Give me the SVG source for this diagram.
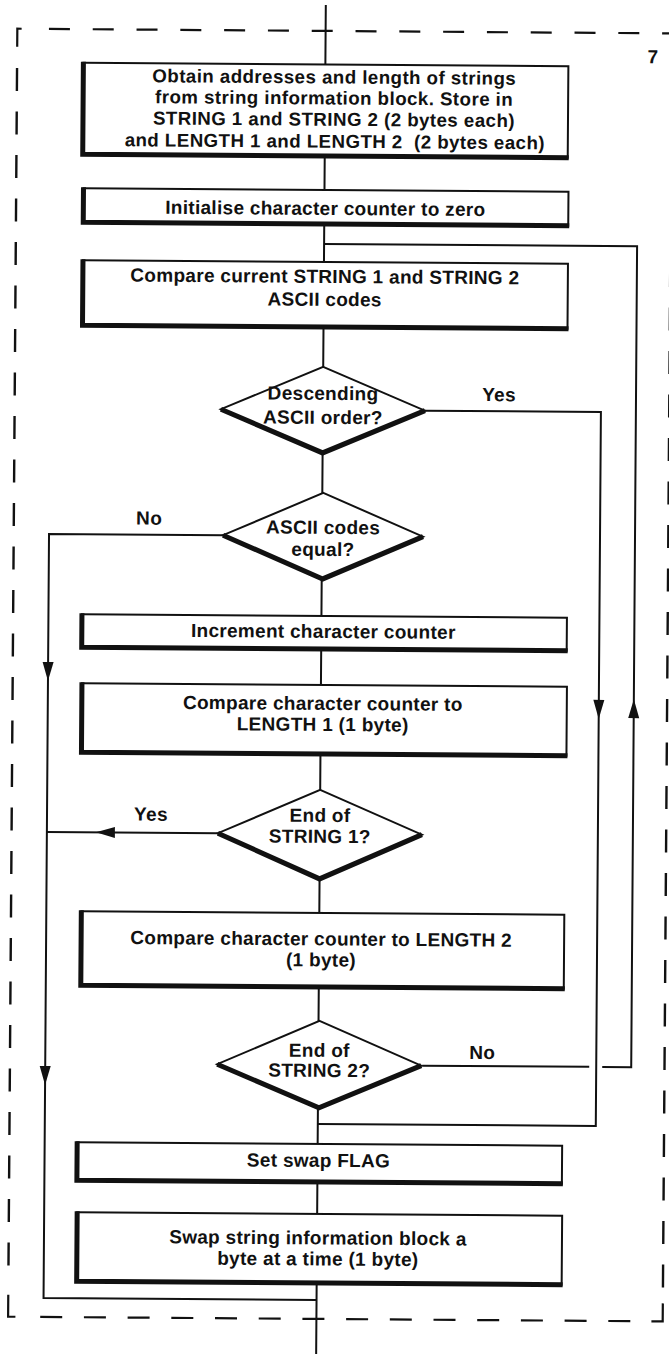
<svg xmlns="http://www.w3.org/2000/svg" xmlns:xlink="http://www.w3.org/1999/xlink" width="669" height="1354" viewBox="0 0 669 1354">
<style>
.t{font-family:"Liberation Sans",Arial,Helvetica,sans-serif;font-weight:bold;font-size:19px;letter-spacing:0.3px;text-anchor:middle;fill:#111}
.t1{font-size:18.7px;letter-spacing:0.45px}
.bx{fill:none;stroke:#111;stroke-width:2}
.bt{fill:none;stroke:#111;stroke-width:5;stroke-linejoin:miter}
.ln{fill:none;stroke:#111;stroke-width:2}
.dh{fill:none;stroke:#111;stroke-width:2.2;stroke-dasharray:21 22.8}
.dv{fill:none;stroke:#111;stroke-width:2.4;stroke-dasharray:23 20.5}
.cn{fill:none;stroke:#111;stroke-width:2.2}
</style>
<defs>
<path id="ah" d="M0,0 L-5.5,-19 L5.5,-19 Z" fill="#111"/>
</defs>
<rect width="669" height="1354" fill="#fff"/>
<g transform="rotate(0.41 334 677)">
<g id="frame">
<path class="dh" d="M44.3,31 H667"/>
<path class="dh" d="M44.8,1319 H650" style="stroke-dasharray:22 21.7"/>
<path class="dv" d="M12.7,70.3 V1285"/>
<path class="dv" d="M667.3,44.1 V1296"/>
<path class="cn" d="M12.7,49 V31 H17"/>
<path class="cn" d="M12.7,1297 V1319 H20"/>
<path class="cn" d="M656,1319 H667.3 V1301"/>
<text class="t" x="648.5" y="61">7</text>
</g>
<g id="connectors">
<path class="ln" d="M321,5 V64.5 M321,156 V190 M321,224 V262 M321,327 V367 M321,453 V493 M321,579 V616 M321,649 V685 M321,754 V790 M321,879 V913 M321,987 V1021 M321,1108 V1144 M321,1182 V1214 M321,1283 V1360"/>
<path class="ln" d="M321,244 H634 V1065 H605 M592,1065 H425"/>
<path class="ln" d="M423,410 H599 V1124 H321"/>
<path class="ln" d="M222,536 H48 V1300 H321"/>
<path class="ln" d="M219,834 H48"/>
<use xlink:href="#ah" transform="translate(599,717)"/>
<use xlink:href="#ah" transform="translate(634,697) rotate(180)"/>
<use xlink:href="#ah" transform="translate(48,683)"/>
<use xlink:href="#ah" transform="translate(48,1087)"/>
<use xlink:href="#ah" transform="translate(97,834) rotate(90)"/>
<text class="t" x="497" y="400">Yes</text>
<text class="t" x="148" y="526">No</text>
<text class="t" x="152" y="822">Yes</text>
<text class="t" x="485" y="1058">No</text>
</g>
<g id="n1">
<rect class="bx" x="79" y="64.5" width="485" height="91.5"/>
<path class="bt" d="M79,63.5 V156 H565"/>
<text class="t t1" x="330" y="83.5">Obtain addresses and length of strings</text>
<text class="t t1" x="330" y="104.5">from string information block. Store in</text>
<text class="t t1" x="330" y="125.8">STRING 1 and STRING 2 (2 bytes each)</text>
<text class="t t1" x="331" y="147.8" xml:space="preserve">and LENGTH 1 and LENGTH 2  (2 bytes each)</text>
</g>
<g id="n2">
<rect class="bx" x="80" y="190" width="485" height="34"/>
<path class="bt" d="M80,189 V224 H566"/>
<text class="t" x="322" y="215">Initialise character counter to zero</text>
</g>
<g id="n3">
<rect class="bx" x="80" y="262" width="485" height="65"/>
<path class="bt" d="M80,261 V327 H566"/>
<text class="t" x="322" y="283">Compare current STRING 1 and STRING 2</text>
<text class="t" x="322" y="306">ASCII codes</text>
</g>
<g id="d1">
<polygon class="bx" points="321,367 423,410 321,453 219,410"/>
<path class="bt" d="M219,410 L321,453 L423,410"/>
<text class="t" x="321" y="400">Descending</text>
<text class="t" x="321" y="424">ASCII order?</text>
</g>
<g id="d2">
<polygon class="bx" points="322,493 422,536 322,579 222,536"/>
<path class="bt" d="M222,536 L322,579 L422,536"/>
<text class="t" x="322" y="534">ASCII codes</text>
<text class="t" x="322" y="556">equal?</text>
</g>
<g id="n4">
<rect class="bx" x="81.5" y="616" width="485" height="33"/>
<path class="bt" d="M81.5,615 V649 H567.5"/>
<text class="t" x="323" y="638">Increment character counter</text>
</g>
<g id="n5">
<rect class="bx" x="82" y="685" width="485" height="69"/>
<path class="bt" d="M82,684 V754 H568"/>
<text class="t" x="323" y="710">Compare character counter to</text>
<text class="t" x="323" y="731">LENGTH 1 (1 byte)</text>
</g>
<g id="d3">
<polygon class="bx" points="321,790 423,834 321,879 219,834"/>
<path class="bt" d="M219,834 L321,879 L423,834"/>
<text class="t" x="321" y="822">End of</text>
<text class="t" x="321" y="843">STRING 1?</text>
</g>
<g id="n6">
<rect class="bx" x="83" y="913" width="483" height="74"/>
<path class="bt" d="M83,912 V987 H567"/>
<text class="t" x="323" y="945.5">Compare character counter to LENGTH 2</text>
<text class="t" x="323" y="966.5">(1 byte)</text>
</g>
<g id="d4">
<polygon class="bx" points="322,1021 424,1065 322,1108 220,1065"/>
<path class="bt" d="M220,1065 L322,1108 L424,1065"/>
<text class="t" x="322" y="1057">End of</text>
<text class="t" x="322" y="1077">STRING 2?</text>
</g>
<g id="n7">
<rect class="bx" x="80.5" y="1144" width="485" height="38"/>
<path class="bt" d="M80.5,1143 V1182 H566.5"/>
<text class="t" x="322" y="1167">Set swap FLAG</text>
</g>
<g id="n8">
<rect class="bx" x="81" y="1214" width="485" height="69"/>
<path class="bt" d="M81,1213 V1283 H567"/>
<text class="t" x="322" y="1244.5">Swap string information block a</text>
<text class="t" x="322" y="1265.5">byte at a time (1 byte)</text>
</g>
</g>
</svg>
